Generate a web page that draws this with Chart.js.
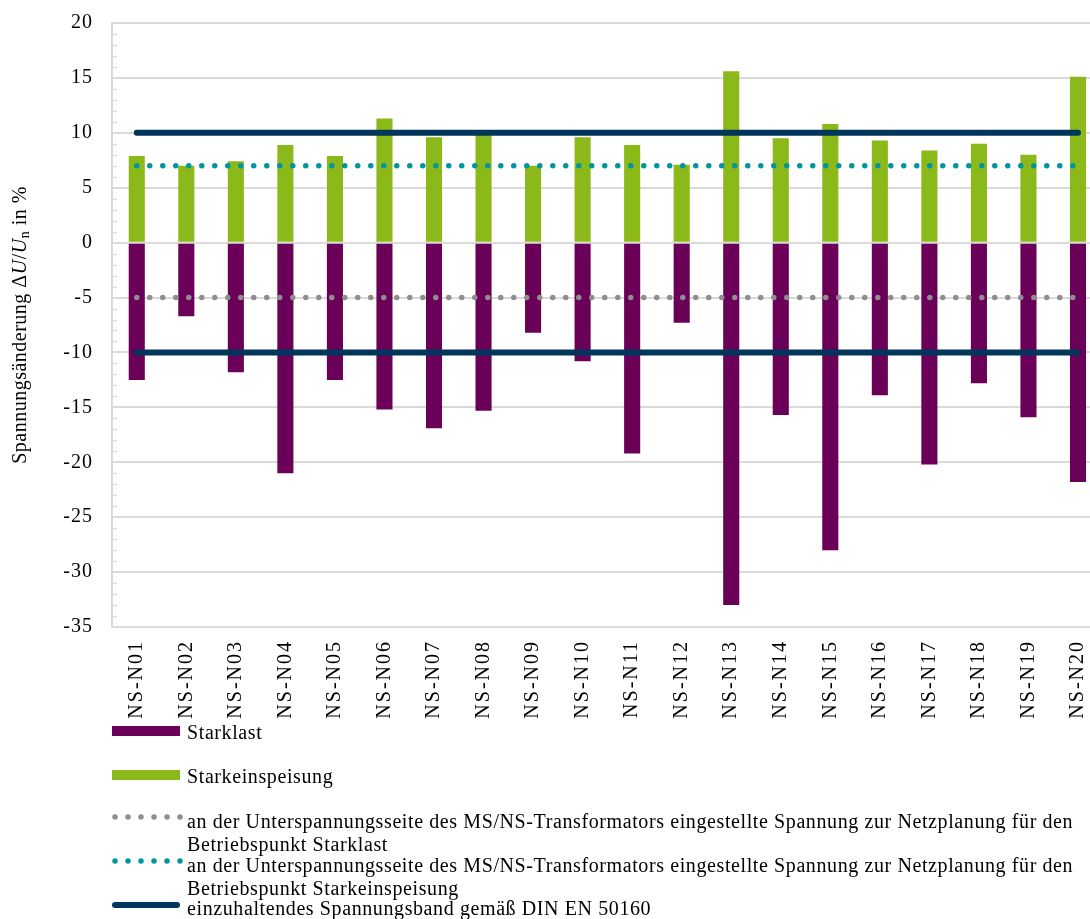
<!DOCTYPE html>
<html lang="de">
<head>
<meta charset="utf-8">
<script src="https://cdn.jsdelivr.net/npm/chart.js@4.4.1/dist/chart.umd.min.js"></script>
<style>
	html, body { margin: 0; padding: 0; background: #fff; overflow: hidden; }
	#wrap { position: relative; width: 1090px; height: 919px; overflow: hidden; }
	#myChart { position: absolute; left: 0; top: -8px; }
	#legende { position: absolute; left: 112px; top: 0; font-family: "Liberation Serif", serif; font-size: 20px; letter-spacing: 0.6px; color: #000; }
	.eintrag { position: absolute; left: 0; display: flex; align-items: flex-start; white-space: pre; line-height: 22.5px; }
	.eintrag svg { flex: none; margin-right: 3px; }
	.eintrag:nth-child(1) { top: 721px; }
	.eintrag:nth-child(2) { top: 765px; }
	.eintrag:nth-child(3) { top: 810px; }
	.eintrag:nth-child(4) { top: 854px; }
	.eintrag:nth-child(5) { top: 897px; }
</style>
</head>
<body>
<div id="wrap">
	<canvas id="myChart" width="1107" height="927"></canvas>
	<div id="legende"></div>
</div>
<script>
var netze = ["NS-N01", "NS-N02", "NS-N03", "NS-N04", "NS-N05", "NS-N06", "NS-N07", "NS-N08", "NS-N09", "NS-N10",
	"NS-N11", "NS-N12", "NS-N13", "NS-N14", "NS-N15", "NS-N16", "NS-N17", "NS-N18", "NS-N19", "NS-N20"];

// Spannungsaenderung in % je Netz
var starklast = [-12.5, -6.7, -11.8, -21.0, -12.5, -15.2, -16.9, -15.3, -8.2, -10.8,
	-19.2, -7.3, -33.0, -15.7, -28.0, -13.9, -20.2, -12.8, -15.9, -21.8];
var starkeinspeisung = [7.9, 7.0, 7.4, 8.9, 7.9, 11.3, 9.6, 9.9, 7.0, 9.6,
	8.9, 7.1, 15.6, 9.5, 10.8, 9.3, 8.4, 9.0, 8.0, 15.1];

// eingestellte Spannung am Trafo und Spannungsband
var sollStarklast = [-5, -5, -5, -5, -5, -5, -5, -5, -5, -5, -5, -5, -5, -5, -5, -5, -5, -5, -5, -5];
var sollStarkeinspeisung = [7, 7, 7, 7, 7, 7, 7, 7, 7, 7, 7, 7, 7, 7, 7, 7, 7, 7, 7, 7];
var bandOben = [10, 10, 10, 10, 10, 10, 10, 10, 10, 10, 10, 10, 10, 10, 10, 10, 10, 10, 10, 10];
var bandUnten = [-10, -10, -10, -10, -10, -10, -10, -10, -10, -10, -10, -10, -10, -10, -10, -10, -10, -10, -10, -10];

var yTicks = [20, 15, 10, 5, 0, -5, -10, -15, -20, -25, -30, -35];

var legendenText = [
	"Starklast",
	"Starkeinspeisung",
	"an der Unterspannungsseite des MS/NS-Transformators eingestellte Spannung zur Netzplanung für den\nBetriebspunkt Starklast",
	"an der Unterspannungsseite des MS/NS-Transformators eingestellte Spannung zur Netzplanung für den\nBetriebspunkt Starkeinspeisung",
	"einzuhaltendes Spannungsband gemäß DIN EN 50160"
];

var lila = "#6b0058";
var gruen = "#8bb91a";
var grau = "#8e8e8e";
var petrol = "#00959f";
var blau = "#00365c";
var gitter = "#dadada";
var schrift = "Liberation Serif";

// kleine Hilfsstriche je 1 % an der y-Achse
var minorTicks = {
	id: "minorTicks",
	beforeDatasetsDraw: function(chart) {
		var y = chart.scales.y;
		var ctx = chart.ctx;
		ctx.save();
		ctx.strokeStyle = gitter;
		ctx.lineWidth = 1.5;
		for (var v = y.min; v <= y.max; v++) {
			if (v % 5 === 0) continue;
			var py = Math.round(y.getPixelForValue(v)) + 0.5;
			ctx.beginPath();
			ctx.moveTo(y.right, py);
			ctx.lineTo(y.right + 5, py);
			ctx.stroke();
		}
		ctx.restore();
	}
};

// etwas Sperrung fuer die Achsenbeschriftung
function sperren(scale, abstand) {
	if (scale._gesperrt) return;
	var orig = scale.drawLabels;
	scale.drawLabels = function(area) {
		var ctx = this.ctx;
		ctx.save();
		ctx.letterSpacing = abstand;
		orig.call(this, area);
		ctx.restore();
	};
	scale._gesperrt = true;
}

var sperrung = {
	id: "sperrung",
	afterUpdate: function(chart) {
		sperren(chart.scales.x, "2px");
		sperren(chart.scales.y, "1px");
	}
};

// Achsentitel mit kursivem U und tiefgestelltem n
var yTitel = {
	id: "yTitel",
	afterDraw: function(chart) {
		var ctx = chart.ctx;
		var area = chart.chartArea;
		var teile = [
			{ t: "Spannungsänderung Δ", f: "20px " + schrift, dy: 0 },
			{ t: "U", f: "italic 20px " + schrift, dy: 0 },
			{ t: "/", f: "20px " + schrift, dy: 0 },
			{ t: "U", f: "italic 20px " + schrift, dy: 0 },
			{ t: "n", f: "14px " + schrift, dy: 4 },
			{ t: " in %", f: "20px " + schrift, dy: 0 }
		];
		ctx.save();
		ctx.letterSpacing = "0.5px";
		var breite = 0;
		teile.forEach(function(s) {
			ctx.font = s.f;
			s.w = ctx.measureText(s.t).width;
			breite += s.w;
		});
		ctx.translate(21, (area.top + area.bottom) / 2);
		ctx.rotate(-Math.PI / 2);
		ctx.fillStyle = "#000";
		ctx.textBaseline = "middle";
		var x = -breite / 2;
		teile.forEach(function(s) {
			ctx.font = s.f;
			ctx.fillText(s.t, x, s.dy);
			x += s.w;
		});
		ctx.restore();
	}
};

function linie(label, data, farbe, breite, punkte) {
	return {
		type: "line",
		label: label,
		data: data,
		borderColor: farbe,
		backgroundColor: farbe,
		borderWidth: breite,
		borderCapStyle: "round",
		borderDash: punkte ? [0, 13] : [],
		pointRadius: 0,
		fill: false,
		order: 0
	};
}

function graph() {
	var ctx = document.getElementById("myChart").getContext("2d");
	var chart = new Chart(ctx, {
		type: "bar",
		data: {
			labels: netze,
			datasets: [{
				label: legendenText[0],
				data: starklast,
				backgroundColor: lila,
				barPercentage: 0.325,
				categoryPercentage: 1,
				order: 1
			}, {
				label: legendenText[1],
				data: starkeinspeisung,
				backgroundColor: gruen,
				barPercentage: 0.325,
				categoryPercentage: 1,
				order: 1
			},
			linie(legendenText[2], sollStarklast, grau, 5.5, true),
			linie(legendenText[3], sollStarkeinspeisung, petrol, 5.5, true),
			linie(legendenText[4], bandOben, blau, 6, false),
			linie(legendenText[4], bandUnten, blau, 6, false)]
		},
		options: {
			responsive: false,
			animation: false,
			devicePixelRatio: 1,
			layout: { padding: { top: 4, right: 0, bottom: 197, left: 0 } },
			plugins: {
				legend: { display: false },
				tooltip: { enabled: false }
			},
			scales: {
				x: {
					stacked: true,
					offset: true,
					grid: { display: false },
					border: { display: true, color: gitter, width: 2 },
					ticks: {
						minRotation: 90,
						maxRotation: 90,
						padding: 5,
						color: "#000",
						font: { family: schrift, size: 20 }
					},
					afterFit: function(scale) { scale.height = 95; }
				},
				y: {
					min: -35,
					max: 20,
					grid: { color: gitter, lineWidth: 2, drawTicks: false },
					border: { display: true, color: gitter, width: 2 },
					afterBuildTicks: function(scale) {
						scale.ticks = yTicks.map(function(v) { return { value: v }; });
					},
					ticks: {
						padding: 19,
						color: "#000",
						font: { family: schrift, size: 20 },
						callback: function(v) { return String(v); }
					},
					afterFit: function(scale) { scale.width = 112; }
				}
			}
		},
		plugins: [minorTicks, sperrung, yTitel]
	});
	legende(chart);
}

// Legende untereinander, ein Eintrag je Zeile
function legende(chart) {
	var box = document.getElementById("legende");
	var gesehen = {};
	chart.data.datasets.forEach(function(ds) {
		if (gesehen[ds.label]) return;
		gesehen[ds.label] = true;
		var zeile = document.createElement("div");
		zeile.className = "eintrag";
		var svg;
		if (ds.type === "line") {
			var dash = ds.borderDash.length ? ' stroke-dasharray="0 13"' : "";
			svg = '<svg width="72" height="14" style="margin-top:' + (ds.borderDash.length ? 0 : 1) + 'px"><line x1="3" y1="7" x2="' + (ds.borderDash.length ? 69 : 65) + '" y2="7" stroke="' + ds.borderColor + '" stroke-width="' + ds.borderWidth + '" stroke-linecap="round"' + dash + '/></svg>';
		} else {
			svg = '<svg width="72" height="10" style="margin-top:5px"><rect x="0" y="0" width="68" height="10" fill="' + ds.backgroundColor + '"/></svg>';
		}
		zeile.innerHTML = svg + "<span></span>";
		zeile.querySelector("span").textContent = ds.label;
		box.appendChild(zeile);
	});
}

document.addEventListener("DOMContentLoaded", function(event) {
	graph();
});
</script>
</body>
</html>
